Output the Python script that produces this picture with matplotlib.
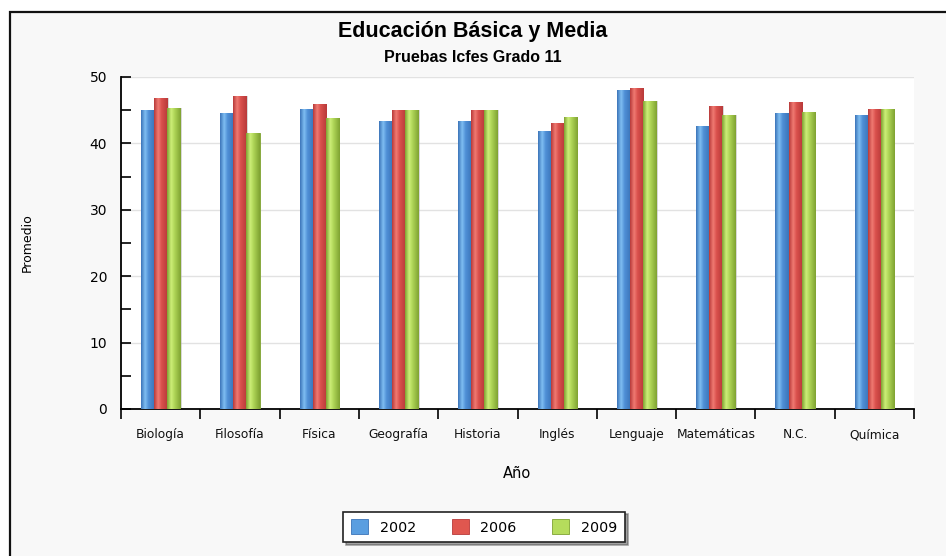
import numpy as np
import matplotlib
matplotlib.use("Agg")
import matplotlib.pyplot as plt
from matplotlib.patches import Rectangle
from matplotlib.colors import LinearSegmentedColormap

# Promedios por área y año
areas = ["Biología", "Filosofía", "Física", "Geografía", "Historia",
         "Inglés", "Lenguaje", "Matemáticas", "N.C.", "Química"]
years = ["2002", "2006", "2009"]
v2002 = [45.0, 44.6, 45.2, 43.4, 43.4, 41.9, 48.1, 42.6, 44.6, 44.3]
v2006 = [46.8, 47.2, 46.0, 45.0, 45.0, 43.1, 48.3, 45.7, 46.2, 45.2]
v2009 = [45.4, 41.5, 43.8, 45.0, 45.0, 44.0, 46.4, 44.3, 44.8, 45.2]
series = [v2002, v2006, v2009]

# (borde oscuro, brillo, base)
shades = [
    ("#3b74b8", "#7fbef2", "#4f8fd6"),
    ("#b83a3a", "#f07a72", "#d9504c"),
    ("#7fa232", "#cdee78", "#aed456"),
]
face = ["#5a9ee0", "#e0574f", "#b5dc5c"]

W, H = 946, 556
fig = plt.figure(figsize=(W / 100, H / 100), dpi=100)
fig.patch.set_facecolor("white")

# marco exterior del gráfico
frame = Rectangle((9.5 / W, -0.01), 1.02 - 9.5 / W, 1 - 12.5 / H + 0.01,
                  transform=fig.transFigure, facecolor="#f8f8f8",
                  edgecolor="#111111", linewidth=1.6, zorder=-10)
fig.patches.append(frame)

ax = fig.add_axes([121 / W, 147 / H, 793 / W, 332 / H])
ax.set_zorder(1)
ax.set_facecolor("white")

bw = 0.165
x = np.arange(len(areas))
grad = np.linspace(0, 1, 64).reshape(1, -1)
for i, vals in enumerate(series):
    dark, light, base = shades[i]
    cmap = LinearSegmentedColormap.from_list(
        f"s{i}", [(0, dark), (0.3, light), (0.55, base), (1, dark)])
    pos = x + (i - 1) * bw
    # sombra
    ax.bar(pos + 0.018, vals, width=bw, color="#b8b8b8", alpha=0.55,
           zorder=2, linewidth=0)
    bars = ax.bar(pos, vals, width=bw, color=face[i], edgecolor=dark,
                  linewidth=0.6, zorder=3, label=years[i])
    for b in bars:
        bx, by = b.get_x(), b.get_y()
        im = ax.imshow(grad, cmap=cmap, aspect="auto", zorder=3.5,
                       extent=(bx, bx + b.get_width(), by, by + b.get_height()),
                       interpolation="bilinear")
        im.set_clip_path(b)
ax.set_xlim(-0.5, len(areas) - 0.5)
ax.set_ylim(0, 50)

# ejes y rejilla
for s in ["top", "right"]:
    ax.spines[s].set_visible(False)
ax.spines["left"].set_linewidth(1.3)
ax.spines["bottom"].set_linewidth(1.3)
ax.set_yticks(np.arange(0, 51, 10))
ax.set_yticks(np.arange(5, 50, 10), minor=True)
ax.yaxis.grid(True, which="major", color="#e2e2e2", linewidth=1.0, zorder=0)
ax.set_axisbelow(True)
ax.tick_params(axis="y", which="both", direction="in", length=7, width=1.2,
               labelsize=10, pad=10)
ax.set_xticks(x)
ax.set_xticklabels(areas, fontsize=8.8, color="#111111")
ax.tick_params(axis="x", which="major", length=0, pad=14)
ax.set_xticks(np.arange(-0.5, len(areas), 1.0), minor=True)
ax.tick_params(axis="x", which="minor", direction="out", length=7, width=1.2)

ax.set_ylabel("Promedio", fontsize=9, labelpad=40)
ax.set_xlabel("Año", fontsize=10.5, labelpad=18)

fig.text(0.5, 1 - 32 / H, "Educación Básica y Media", ha="center", va="center",
         fontsize=15.5, fontweight="bold", family="Liberation Sans")
fig.text(0.5, 1 - 57 / H, "Pruebas Icfes Grado 11", ha="center", va="center",
         fontsize=11.5, fontweight="bold", family="Liberation Sans")

leg = fig.legend(loc="center", bbox_to_anchor=(484 / W, 1 - 527 / H), ncol=3,
                 fontsize=10.3, frameon=True, fancybox=False, shadow=True,
                 handlelength=1.2, handleheight=1.2, columnspacing=2.5,
                 borderpad=0.55, handletextpad=0.8)
leg.get_frame().set_edgecolor("#222222")
leg.get_frame().set_linewidth(1.2)
for h, c, s in zip(leg.legend_handles, face, shades):
    h.set_facecolor(c)
    h.set_edgecolor(s[0])

fig.savefig("out.png", dpi=100)
